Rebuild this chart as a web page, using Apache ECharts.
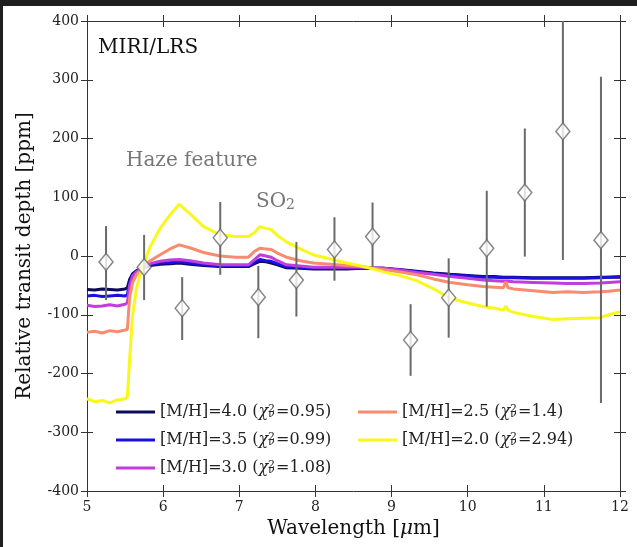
<!DOCTYPE html>
<html><head><meta charset="utf-8">
<script src="https://cdn.jsdelivr.net/npm/echarts@6/dist/echarts.min.js"></script>
<style>html,body{margin:0;padding:0;background:#fff;}#c{width:637px;height:547px;}</style>
</head><body><div id="c"></div>
<script>
// ---- data ----
const wavelength = [5.0,5.1,5.2,5.3,5.4,5.5,5.53,5.56,5.6,5.65,5.7,5.76,5.83,5.96,6.09,6.21,6.35,6.53,6.75,6.95,7.12,7.2,7.27,7.35,7.42,7.5,7.62,7.8,7.97,8.2,8.41,8.6,8.76,8.89,9.1,9.33,9.55,9.77,10.0,10.2,10.35,10.47,10.5,10.53,10.6,10.86,11.12,11.3,11.52,11.74,11.85,12.0];
const mh40 = [-57,-58,-56,-57,-58,-56,-54,-40,-30,-25,-22,-19,-16,-14,-13,-12,-14,-16,-18,-18,-18,-13,-9,-10,-12,-15,-20,-21,-22,-22,-22,-21,-21,-21,-23,-26,-29,-31,-33,-35,-35,-36,-36,-36,-36,-37,-37,-37,-37,-36,-36,-36];
const mh35 = [-68,-67,-69,-68,-67,-68,-66,-45,-32,-26,-22,-19,-15,-12,-11,-10,-12,-15,-17,-17,-17,-11,-6,-8,-9,-13,-18,-20,-21,-21,-21,-21,-21,-21,-24,-27,-30,-32,-34,-36,-36,-37,-37,-37,-37,-38,-38,-38,-38,-37,-36,-35];
const mh30 = [-84,-86,-85,-83,-85,-82,-80,-50,-34,-27,-22,-18,-13,-9,-7,-6,-8,-12,-15,-15,-15,-6,2,0,-2,-8,-15,-17,-19,-19,-19,-19,-20,-21,-24,-28,-31,-35,-38,-41,-42,-43,-43,-43,-44,-45,-46,-47,-47,-46,-45,-44];
const mh25 = [-130,-128,-131,-127,-129,-126,-125,-70,-45,-32,-24,-16,-8,2,12,19,14,6,0,-2,-2,8,13,12,11,5,-2,-8,-12,-14,-16,-18,-21,-23,-27,-32,-39,-45,-49,-52,-53,-54,-44,-54,-56,-59,-62,-61,-62,-61,-60,-58];
const mh20 = [-243,-248,-246,-250,-245,-243,-240,-175,-100,-55,-30,-8,16,47,70,88,72,50,36,33,33,40,50,47,45,35,24,12,2,-5,-12,-17,-22,-27,-33,-42,-56,-72,-80,-86,-89,-92,-85,-92,-96,-103,-108,-107,-106,-105,-100,-95];
const metallicity = ['4.0','3.5','3.0','2.5','2.0'];
const chi2 = ['0.95','0.99','1.08','1.4','2.94'];
const lineColors = ['#0c0a5c','#1a10e2','#c23ddc','#f98b6e','#f8f81c'];

const obsWave = [5.25,5.75,6.25,6.75,7.25,7.75,8.25,8.75,9.25,9.75,10.25,10.75,11.25,11.75];
const obsDepth = [-10,-19,-89,31,-70,-41,11,33,-143,-71,13,108,212,27];
const obsLow = [-75,-75,-143,-32,-140,-103,-42,-18,-204,-139,-86,-1,-7,-250];
const obsHigh = [51,36,-36,92,-17,24,66,91,-82,-4,111,217,431,305];

const xTicks = [5,6,7,8,9,10,11,12];
const yTicks = [-400,-300,-200,-100,0,100,200,300,400];

// ---- chart ----
const chart = echarts.init(document.getElementById('c'), null, {renderer:'canvas'});
const serif = 'DejaVu Serif';
const modelSets = [mh40, mh35, mh30, mh25, mh20];
const names = metallicity.map((m,i)=>`[M/H]=${m} (χ2ν=${chi2[i]})`);

function xAx(pos, inside, show){
  return {type:'value', position:pos, min:xTicks[0], max:xTicks[xTicks.length-1], interval:1,
    axisLine:{show:show, onZero:false, lineStyle:{color:'#333', width:1}},
    axisTick:{show:true, inside:inside, length:6, lineStyle:{color:'#333', width:1}},
    axisLabel:{show:false}, splitLine:{show:false}};
}
function yAx(pos, inside, show){
  return {type:'value', position:pos, min:yTicks[0], max:yTicks[yTicks.length-1], interval:100,
    axisLine:{show:show, onZero:false, lineStyle:{color:'#333', width:1}},
    axisTick:{show:true, inside:inside, length:6, lineStyle:{color:'#333', width:1}},
    axisLabel:{show:false}, splitLine:{show:false}};
}
const xMain = xAx('bottom', false, true);
xMain.axisLabel = {show:true, fontFamily:serif, fontSize:14, color:'#222', margin:9};
xMain.name = 'Wavelength [{i|μ}m]';
xMain.nameLocation = 'middle';
xMain.nameGap = 28;
xMain.nameTextStyle = {fontFamily:serif, fontSize:20, color:'#111', rich:{i:{fontFamily:serif, fontStyle:'italic', fontSize:20, color:'#111'}}};
const yMain = yAx('left', false, true);
yMain.axisLabel = {show:true, fontFamily:serif, fontSize:14, color:'#222', margin:8};
yMain.name = 'Relative transit depth [ppm]';
yMain.nameLocation = 'middle';
yMain.nameGap = 52;
yMain.nameTextStyle = {fontFamily:serif, fontSize:20, color:'#111'};

const series = modelSets.map((vals,i)=>({
  type:'line', name:names[i], data:wavelength.map((w,j)=>[w, vals[j]]),
  showSymbol:false, symbol:'none', lineStyle:{color:lineColors[i], width:3}, itemStyle:{color:lineColors[i]},
  z:2+i, animation:false
}));
series.push({
  type:'custom', name:'err', clip:true, z:10, animation:false,
  data: obsWave.map((w,i)=>[w, obsLow[i], obsHigh[i]]),
  renderItem:(params, api)=>{
    const p1 = api.coord([api.value(0), api.value(1)]);
    const p2 = api.coord([api.value(0), api.value(2)]);
    return {type:'line', shape:{x1:p1[0], y1:p1[1], x2:p2[0], y2:p2[1]}, style:{stroke:'#6a6a6a', lineWidth:2}};
  }
});
series.push({
  type:'scatter', name:'obs', z:11, animation:false,
  data: obsWave.map((w,i)=>[w, obsDepth[i]]),
  symbol:'diamond', symbolSize:[14,17],
  itemStyle:{color:'#fff', borderColor:'#6a6a6a', borderWidth:1.5}
});

const legendText = {fontFamily:serif, fontSize:16, color:'#222', rich:{
  sup:{fontFamily:serif, fontSize:11, color:'#222', width:0, verticalAlign:'top'},
  sub:{fontFamily:serif, fontSize:11, color:'#222', width:8, verticalAlign:'bottom'},
  chi:{fontFamily:serif, fontSize:16, fontStyle:'italic', color:'#222'}
}};
const legendFmt = (name)=>{
  const i = names.indexOf(name);
  return `[M/H]=${metallicity[i]} ({chi|χ}{sup|2}{sub|ν}=${chi2[i]})`;
};
function mkLegend(list, left){
  return {data:list, orient:'vertical', left:left, top:399, itemWidth:39, itemHeight:3, itemGap:12,
    icon:'rect', selectedMode:false, textStyle:legendText, formatter:legendFmt};
}

chart.setOption({
  backgroundColor:'#fff',
  animation:false,
  grid:{left:87, right:17, top:21, bottom:56},
  xAxis:[xMain, xAx('top', false, true), xAx('bottom', true, false), xAx('top', true, false)],
  yAxis:[yMain, yAx('right', false, true), yAx('left', true, false), yAx('right', true, false)],
  legend:[mkLegend(names.slice(0,3), 111), mkLegend(names.slice(3), 353)],
  graphic:[
    {type:'rect', shape:{x:0,y:0,width:637,height:6}, style:{fill:'#1f1f1f'}, z:100},
    {type:'rect', shape:{x:0,y:0,width:3,height:547}, style:{fill:'#1f1f1f'}, z:100},
    {type:'text', left:98, top:38, style:{text:'MIRI/LRS', font:'20px "DejaVu Serif"', fill:'#111'}},
    {type:'text', left:126, top:151, style:{text:'Haze feature', font:'20px "DejaVu Serif"', fill:'#777'}},
    {type:'text', left:256, top:192, style:{text:'SO{s|2}', font:'20px "DejaVu Serif"', fill:'#777',
      rich:{s:{font:'14px "DejaVu Serif"', fill:'#777', verticalAlign:'bottom', padding:[0,0,0,0]}}}}
  ],
  series:series
});
</script></body></html>
